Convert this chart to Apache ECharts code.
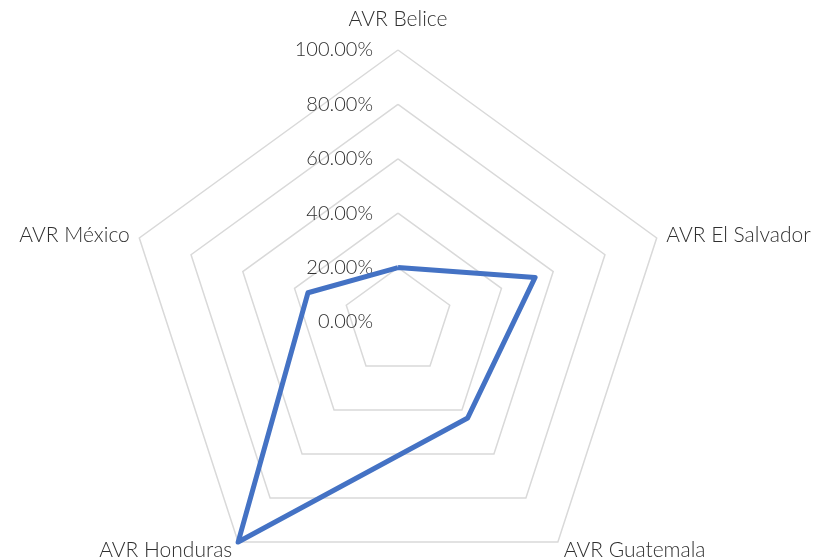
<!DOCTYPE html>
<html>
<head>
<meta charset="utf-8">
<script src="https://cdn.jsdelivr.net/npm/echarts@6/dist/echarts.min.js"></script>
<style>
  html, body { margin: 0; padding: 0; background: #fff; }
  #chart { width: 820px; height: 560px; }
</style>
</head>
<body>
<div id="chart"></div>
<script>
// indicadores y valores (fracción), en el orden en que ECharts dibuja (antihorario)
var paises = ['AVR Belice', 'AVR México', 'AVR Honduras', 'AVR Guatemala', 'AVR El Salvador'];
var valores = [0.20, 0.348, 1.00, 0.436, 0.53];
var maxValor = 1;

var myChart = echarts.init(document.getElementById('chart'));

var indicadores = paises.map(function (p, i) {
	var ind = { name: p, max: maxValor, min: 0 };
	if (i === 0) {
		// solo el primer eje muestra las etiquetas
		ind.axisLabel = { show: true };
		ind.nameGap = 20;
	}
	return ind;
});

var option = {
	animation: false,
	radar: {
		center: [398, 322],
		radius: 272,
		startAngle: 90,
		splitNumber: 5,
		shape: 'polygon',
		indicator: indicadores,
		axisName: {
			color: '#303030',
			fontFamily: 'Lato',
			fontWeight: 300,
			fontSize: 21
		},
		nameGap: 10,
		axisLine: { show: false },
		axisTick: { show: false },
		splitArea: { show: false },
		splitLine: { lineStyle: { color: '#D9D9D9', width: 1.5 } },
		axisLabel: {
			show: false,
			color: '#303030',
			fontFamily: 'Lato',
			fontWeight: 300,
			fontSize: 20,
			align: 'right',
			margin: 25,
			formatter: function (v) { return (v * 100).toFixed(2) + '%'; }
		}
	},
	series: [{
		type: 'radar',
		symbol: 'none',
		lineStyle: { color: '#4472C4', width: 5 },
		data: [{ value: valores }]
	}]
};

myChart.setOption(option);
</script>
</body>
</html>
